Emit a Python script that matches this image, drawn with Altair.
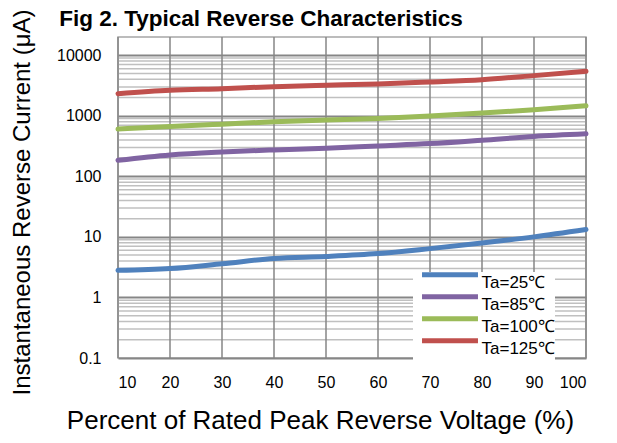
import altair as alt
import pandas as pd

# ---- data ----
x_pct = [10, 20, 30, 40, 50, 60, 70, 80, 90, 100]
series_names = ["Ta=25℃", "Ta=85℃", "Ta=100℃", "Ta=125℃"]
i_25 = [2.8, 3.0, 3.6, 4.4, 4.75, 5.3, 6.4, 7.9, 10.0, 13.2]
i_85 = [184, 226, 253, 273, 291, 318, 347, 395, 455, 503]
i_100 = [603, 666, 728, 795, 849, 902, 989, 1108, 1258, 1466]
i_125 = [2318, 2630, 2806, 3024, 3190, 3357, 3623, 3953, 4605, 5430]
colors = ["#4F81BD", "#8064A2", "#9BBB59", "#C0504D"]

chart_title = ["Fig 2. Typical Reverse Characteristics"]
x_ticks = [10, 20, 30, 40, 50, 60, 70, 80, 90, 100]
y_ticks = [0.1, 1, 10, 100, 1000, 10000]
minor_grid = [m * 10.0 ** e for e in range(-1, 4) for m in range(2, 10)]

rows = []
for name, vals in zip(series_names, [i_25, i_85, i_100, i_125]):
    for xv, yv in zip(x_pct, vals):
        rows.append({"x": xv, "current": yv, "series": name})
df = pd.DataFrame(rows)

FONT = "Liberation Sans"

x_scale = alt.Scale(domain=[10, 100], nice=False, zero=False)
y_scale = alt.Scale(type="log", domain=[0.1, 20000], nice=False)

x_axis = alt.Axis(
    values=x_ticks, grid=False, ticks=False, domain=False,
    labelFontSize=16, labelFont=FONT, labelColor="#000000", labelPadding=16,
    title="Percent of Rated Peak Reverse Voltage (%)",
    titleFontSize=26, titleFont=FONT, titleFontWeight="normal", titleColor="#000000",
    titleX=202, titleY=70, titleBaseline="alphabetic", titleAlign="center",
)
y_axis = alt.Axis(
    values=y_ticks, format="~g", grid=True, gridColor="#868686", gridWidth=2,
    ticks=False, domain=False,
    labelFontSize=16, labelFont=FONT, labelColor="#000000", labelPadding=17,
    labelBaseline="middle",
    title="Instantaneous Reverse Current (μA)",
    titleFontSize=24, titleFont=FONT, titleFontWeight="normal", titleColor="#000000",
    titleX=-96, titleY=165, titleAngle=-90, titleBaseline="middle", titleAlign="center",
)

minor = alt.Chart(pd.DataFrame({"current": minor_grid})).mark_rule(
    color="#c0c0c0", strokeWidth=1.5
).encode(y=alt.Y("current:Q", scale=y_scale, axis=y_axis))

vgrid = alt.Chart(pd.DataFrame({"x": x_ticks})).mark_rule(
    color="#868686", strokeWidth=1.5
).encode(x=alt.X("x:Q", scale=x_scale, axis=x_axis))

lines = alt.Chart(df).mark_line(
    strokeWidth=5, interpolate="monotone", strokeCap="round"
).encode(
    x=alt.X("x:Q", scale=x_scale, axis=x_axis),
    y=alt.Y("current:Q", scale=y_scale, axis=y_axis),
    color=alt.Color(
        "series:N",
        scale=alt.Scale(domain=series_names, range=colors),
        sort=series_names,
        legend=alt.Legend(
            title=None, orient="none", legendX=295, legendY=235,
            fillColor="white", padding=0, clipHeight=21.5,
            symbolType="M-6,-1.72H6", symbolSize=87, symbolStrokeWidth=5,
            symbolOffset=28.5, labelOffset=23, labelBaseline="middle",
            labelFontSize=17, labelFont=FONT, labelColor="#000000",
            rowPadding=0,
        ),
    ),
)

title_text = alt.Chart(pd.DataFrame({"t": chart_title})).mark_text(
    font=FONT, fontSize=22.5, fontWeight="bold", color="#000000",
    align="center", baseline="alphabetic",
).encode(text="t:N", x=alt.value(143), y=alt.value(-11))

chart = alt.layer(minor, vgrid, lines, title_text).properties(
    width=468, height=321,
    autosize=alt.AutoSizeParams(type="none"),
    padding={"left": 110, "top": 29, "right": 15, "bottom": 76},
).configure_view(stroke="#a6a6a6", strokeWidth=1.5)

chart.save("out.html", embed_options={"renderer": "svg", "actions": False})
